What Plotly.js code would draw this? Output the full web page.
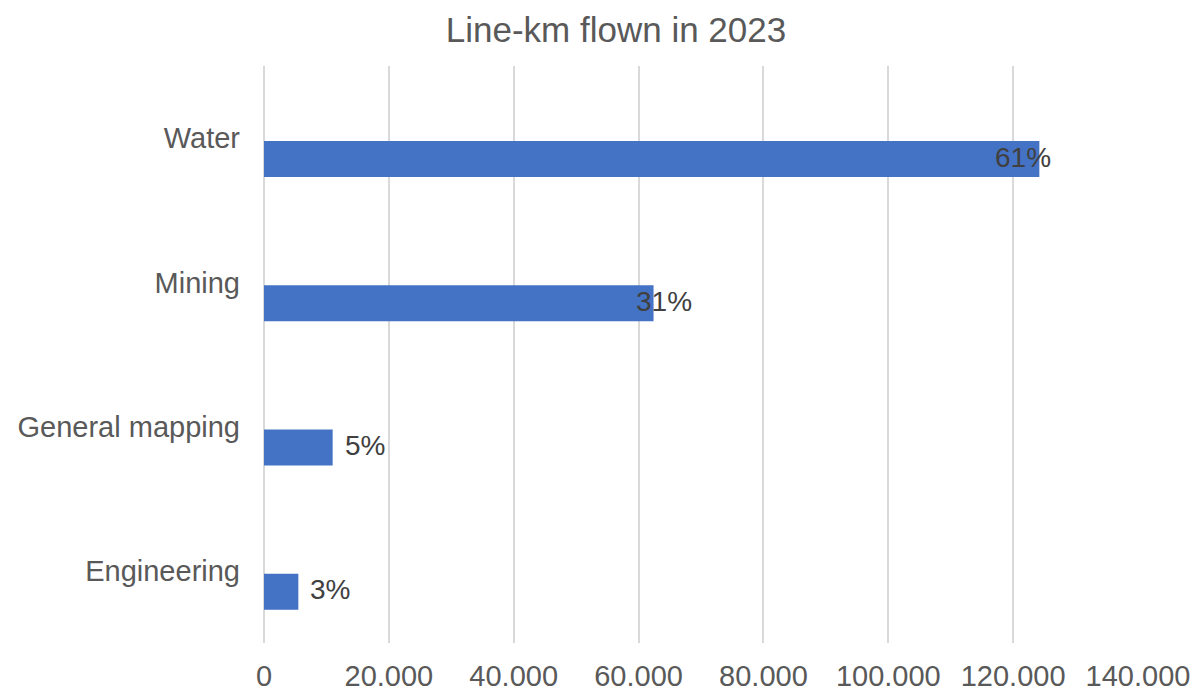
<!DOCTYPE html>
<html>
<head>
<meta charset="utf-8">
<script src="https://cdn.plot.ly/plotly-3.0.1.min.js"></script>
<style>html,body{margin:0;padding:0;background:#fff;}#chart{width:1197px;height:693px;}</style>
</head>
<body>
<div id="chart"></div>
<script>
// Data
const categories = ['Water', 'Mining', 'General mapping', 'Engineering'];
const lineKm = [124200, 62400, 11000, 5500];
const pctLabels = ['61%', '31%', '5%', '3%'];
const xTickVals = [0, 20000, 40000, 60000, 80000, 100000, 120000, 140000];

// Style-only offsets for label placement (pixels)
const labelXShift = [-46, -20, 10, 10];

const FONT = 'Liberation Sans, Arial, sans-serif';
const GREY = '#595959';

const trace = {
  type: 'bar',
  orientation: 'h',
  y: categories,
  x: lineKm,
  marker: { color: '#4472C4' },
  width: 0.25,
  offset: 0.02,
  hoverinfo: 'x+y'
};

const annotations = categories.map((c, i) => ({
  x: lineKm[i],
  y: c,
  xref: 'x',
  yref: 'y',
  text: pctLabels[i],
  showarrow: false,
  xanchor: 'left',
  yanchor: 'middle',
  xshift: labelXShift[i],
  yshift: -19,
  font: { family: FONT, size: 28, color: '#404040' }
}));

const layout = {
  width: 1197,
  height: 693,
  margin: { l: 264, r: 59, t: 66, b: 50 },
  paper_bgcolor: '#ffffff',
  plot_bgcolor: '#ffffff',
  separators: ',.',
  showlegend: false,
  title: {
    text: 'Line-km flown in 2023',
    font: { family: FONT, size: 35, color: GREY },
    x: 616 / 1197,
    xref: 'container',
    xanchor: 'center',
    y: 0.957,
    yref: 'container',
    yanchor: 'middle'
  },
  xaxis: {
    range: [0, 140000],
    tickvals: xTickVals,
    tickformat: ',d',
    showgrid: true,
    gridcolor: '#d9d9d9',
    gridwidth: 2,
    zeroline: true,
    zerolinecolor: '#d9d9d9',
    zerolinewidth: 2,
    showline: false,
    ticks: '',
    ticklabelstandoff: 13,
    tickfont: { family: FONT, size: 29, color: GREY },
    fixedrange: true
  },
  yaxis: {
    type: 'category',
    autorange: 'reversed',
    showgrid: false,
    zeroline: false,
    showline: false,
    ticks: '',
    ticklabelstandoff: 23,
    tickfont: { family: FONT, size: 29, color: GREY },
    fixedrange: true
  },
  annotations: annotations
};

Plotly.newPlot('chart', [trace], layout, { displayModeBar: false, staticPlot: true });
</script>
</body>
</html>
